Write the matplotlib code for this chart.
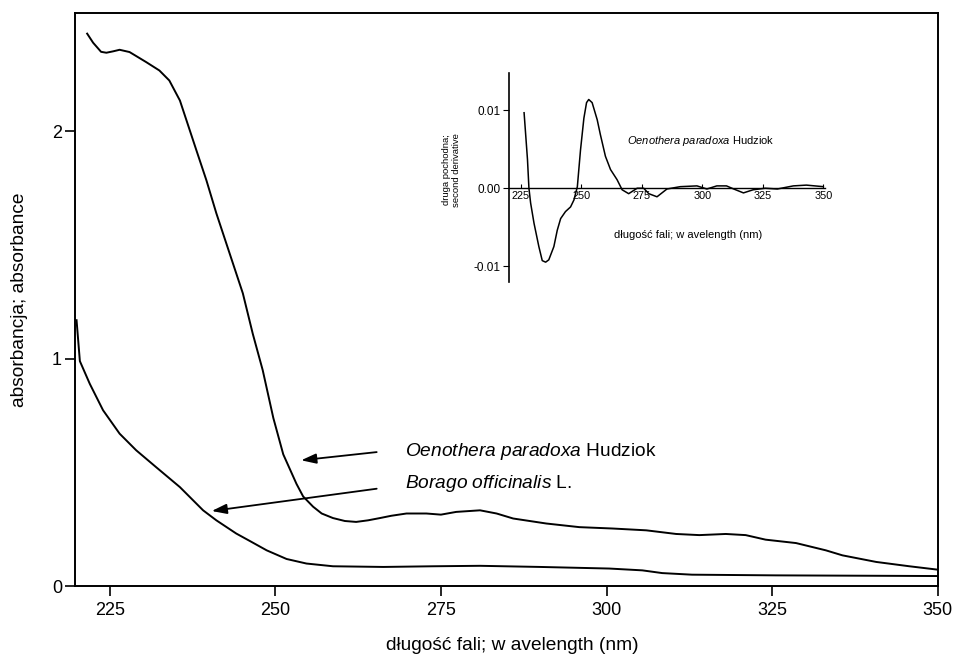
import matplotlib
matplotlib.use("Agg")
import matplotlib.pyplot as plt

plt.rcParams['font.family'] = ['Liberation Sans', 'DejaVu Sans']
plt.rcParams['mathtext.fontset'] = 'custom'
plt.rcParams['mathtext.rm'] = 'Liberation Sans'
plt.rcParams['mathtext.it'] = 'Liberation Sans:italic'

# ---- main spectrum data ----
oeno_x = [221.6, 222.5, 223.7, 224.5, 225.5, 226.5, 228.0, 230.5, 232.5, 234.0, 235.6, 236.6,
          238.1, 239.6, 241.1, 243.1, 245.1, 246.6, 248.1, 249.7, 251.2, 253.2, 254.2, 255.7,
          257.0, 258.7, 260.5, 262.2, 264.0, 265.8, 267.5, 269.8, 272.8, 275.0, 277.3, 280.9,
          283.4, 285.9, 290.9, 295.9, 300.9, 306.0, 310.5, 314.0, 318.0, 321.0, 324.0, 328.6,
          333.1, 335.6, 340.7, 345.7, 350.0]
oeno_y = [2.43, 2.39, 2.35, 2.346, 2.352, 2.359, 2.349, 2.305, 2.268, 2.224, 2.136, 2.048,
          1.916, 1.785, 1.640, 1.464, 1.288, 1.11, 0.95, 0.74, 0.58, 0.45, 0.395, 0.35,
          0.32, 0.30, 0.287, 0.283, 0.29, 0.30, 0.31, 0.32, 0.32, 0.315, 0.327, 0.334,
          0.32, 0.298, 0.276, 0.26, 0.254, 0.246, 0.23, 0.225, 0.23, 0.225, 0.205, 0.19,
          0.158, 0.136, 0.107, 0.088, 0.073]

bor_x = [220.0, 220.5, 222.0, 224.0, 226.5, 229.0, 232.0, 235.6, 239.1, 241.1, 244.1, 246.1,
         248.7, 251.7, 254.7, 258.7, 266.3, 273.8, 280.9, 290.0, 300.4, 305.4, 308.4, 312.9,
         325.5, 350.0]
bor_y = [1.17, 0.99, 0.89, 0.774, 0.671, 0.598, 0.524, 0.436, 0.334, 0.29, 0.232, 0.20,
         0.158, 0.12, 0.10, 0.088, 0.085, 0.088, 0.09, 0.085, 0.078, 0.07, 0.058, 0.051,
         0.048, 0.045]

main_xticks = [225, 250, 275, 300, 325, 350]
main_yticks = [0, 1, 2]

# ---- second derivative (inset) data ----
der_x = [226.4, 227.1, 227.8, 228.4, 229.1, 230.5, 232.5, 233.9, 235.3, 236.6, 238.7, 240.1,
         241.5, 243.5, 245.6, 247.0, 248.4, 249.7, 251.1, 252.2, 253.1, 254.5, 256.6, 257.9,
         260.0, 262.1, 264.8, 266.9, 269.6, 273.1, 275.8, 277.9, 281.3, 285.4, 290.9, 297.8,
         301.9, 306.0, 310.0, 313.0, 317.0, 321.0, 326.0, 331.0, 337.6, 343.0, 350.0]
der_y = [0.0097, 0.0067, 0.0037, 0.0, -0.0019, -0.0045, -0.0075, -0.0093, -0.0095, -0.0092,
         -0.0075, -0.0054, -0.0039, -0.0030, -0.0024, -0.0015, 0.0002, 0.0049, 0.0090, 0.0110,
         0.0114, 0.0110, 0.0088, 0.0069, 0.0041, 0.0024, 0.0011, -0.0002, -0.0007, 0.0, 0.0,
         -0.0007, -0.0011, -0.0001, 0.0002, 0.0003, -0.0001, 0.0003, 0.0003, -0.0001, -0.0006,
         -0.0002, 0.0, -0.0001, 0.0003, 0.0004, 0.0002]
ins_xticks = [225, 250, 275, 300, 325, 350]
ins_yticks = [-0.01, 0.0, 0.01]
ins_ytick_labels = ["-0.01", "0.00", "0.01"]

fig = plt.figure(figsize=(9.56, 6.58), dpi=100)
ax = fig.add_axes([0.078, 0.109, 0.903, 0.871])
ax.plot(oeno_x, oeno_y, color='black', lw=1.4)
ax.plot(bor_x, bor_y, color='black', lw=1.4)
ax.set_xlim(219.7, 350)
ax.set_ylim(0, 2.52)
ax.set_xticks(main_xticks)
ax.set_yticks(main_yticks)
ax.tick_params(direction='out', length=7, width=1.2, labelsize=13, pad=4)
ax.tick_params(axis='y', pad=2)
for s in ax.spines.values():
    s.set_linewidth(1.4)
fig.text(512 / 956, 1 - 645 / 658, "długość fali; w avelength (nm)", fontsize=13.8,
         ha='center', va='center')
fig.text(20 / 956, 1 - 300 / 658, "absorbancja; absorbance", fontsize=13.8,
         ha='center', va='center', rotation=90)

arrow_style = '-|>,head_length=0.9,head_width=0.3'
ax.annotate("", xy=(253.9, 0.554), xytext=(265.3, 0.59),
            arrowprops=dict(arrowstyle=arrow_style, color='black', lw=1.3,
                            mutation_scale=10, shrinkA=0, shrinkB=0))
ax.annotate("", xy=(240.4, 0.331), xytext=(265.3, 0.429),
            arrowprops=dict(arrowstyle=arrow_style, color='black', lw=1.3,
                            mutation_scale=10, shrinkA=0, shrinkB=0))
ax.text(269.6, 0.593, r"$\mathit{Oenothera\ paradoxa}$ Hudziok", fontsize=13.8,
        ha='left', va='center')
ax.text(269.6, 0.453, r"$\mathit{Borago\ officinalis}$ L.", fontsize=13.8,
        ha='left', va='center')

# ---- inset ----
ins = fig.add_axes([0.532, 0.572, 0.331, 0.317])
ins.plot(der_x, der_y, color='black', lw=1.1)
ins.set_xlim(220, 350.7)
ins.set_ylim(-0.0120, 0.0148)
ins.spines['top'].set_visible(False)
ins.spines['right'].set_visible(False)
ins.spines['bottom'].set_position(('data', 0))
ins.spines['left'].set_linewidth(1.2)
ins.spines['bottom'].set_linewidth(1.0)
ins.set_xticks(ins_xticks)
ins.set_yticks(ins_yticks)
ins.set_yticklabels(ins_ytick_labels)
ins.tick_params(axis='x', direction='in', length=3, labelsize=7.8, pad=2)
ins.tick_params(axis='y', direction='out', length=4, labelsize=8.5, pad=2)
ins.text(0.375, 0.672, r"$\mathit{Oenothera\ paradoxa}$ Hudziok", fontsize=8.0,
         transform=ins.transAxes, ha='left', va='center')
ins.text(0.567, 0.224, "długość fali; w avelength (nm)", fontsize=8.0,
         transform=ins.transAxes, ha='center', va='center')
ins.text(-0.181, 0.536, "druga pochodna;\nsecond derivative", fontsize=6.8,
         transform=ins.transAxes, ha='center', va='center', rotation=90,
         multialignment='center', linespacing=1.1)

fig.savefig("out.png", dpi=100)
